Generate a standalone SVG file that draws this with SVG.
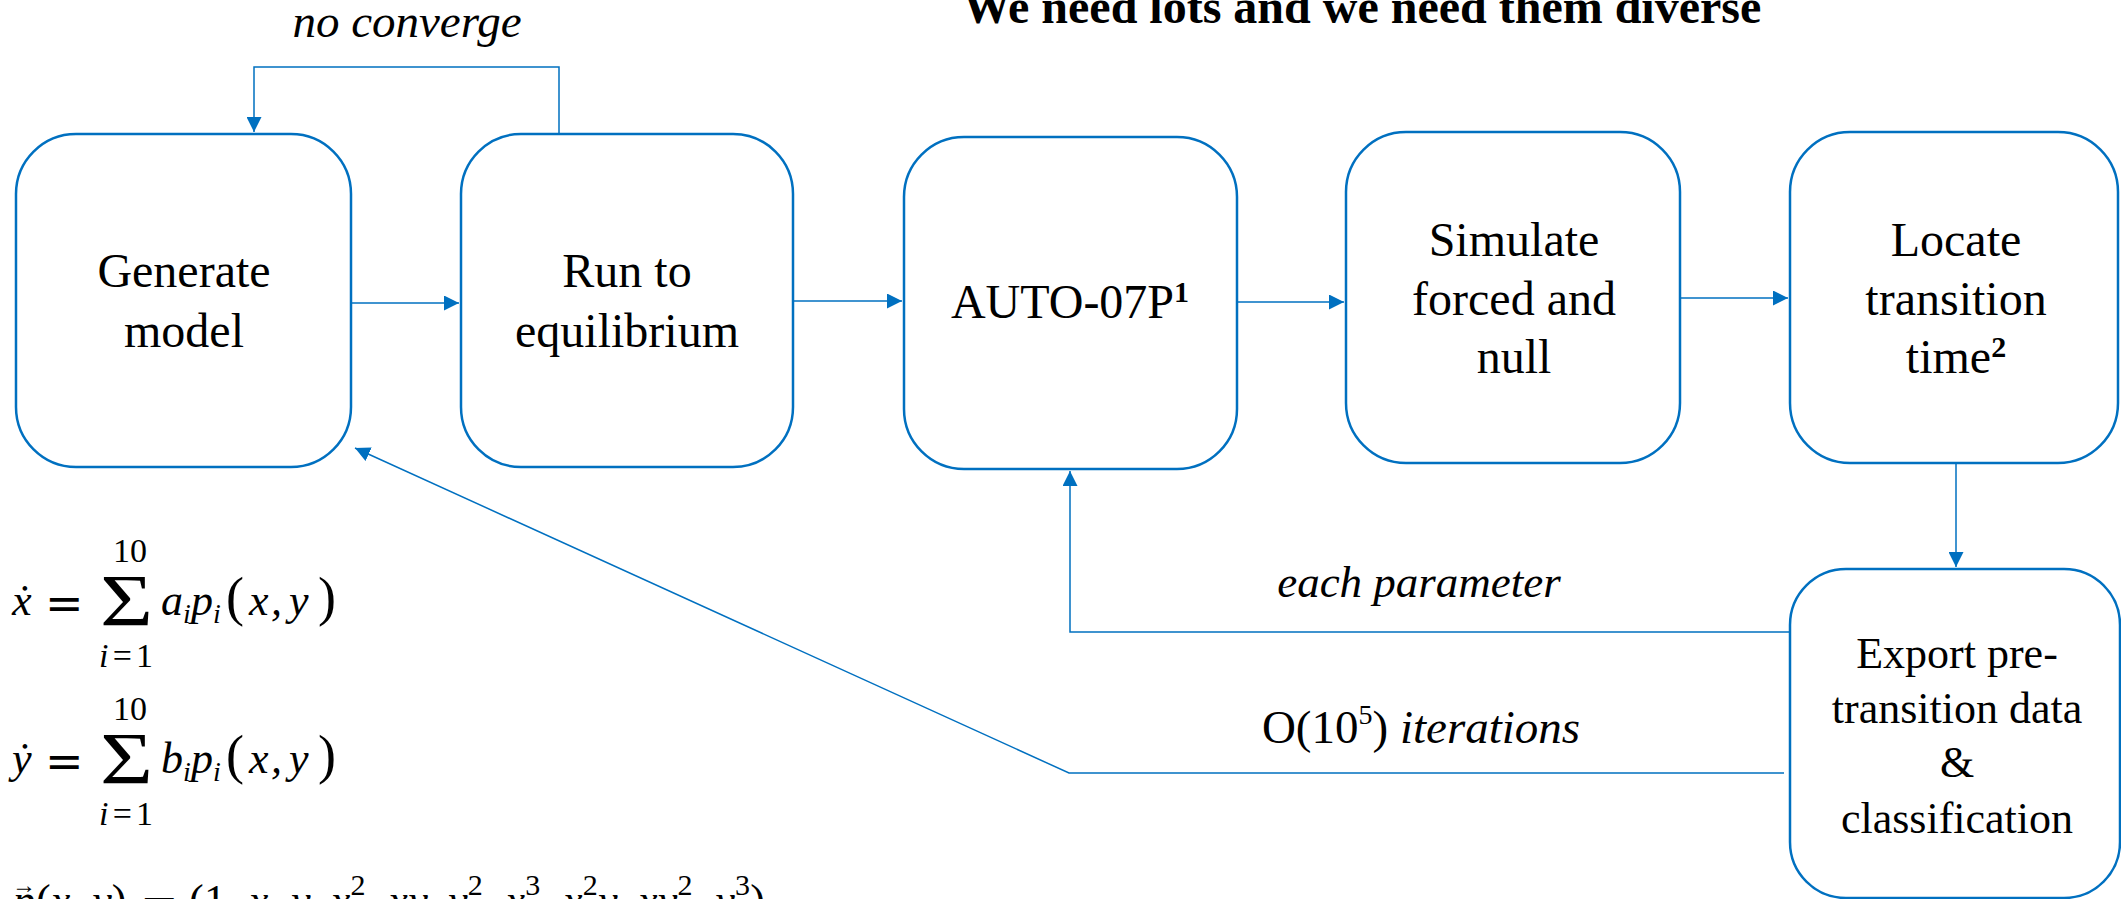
<svg xmlns="http://www.w3.org/2000/svg" width="2121" height="899" viewBox="0 0 2121 899">
<defs>
<style>
.box{fill:#fff;stroke:#0070C0;stroke-width:2.5}
.con{fill:none;stroke:#0070C0;stroke-width:1.5}
.t{font-family:"Liberation Serif","Times New Roman",serif;fill:#000}
.lbl{font-size:48px;text-anchor:middle}
.ex{font-size:44px;text-anchor:middle}
.it{font-style:italic}
.eq{font-family:"Liberation Serif","Times New Roman",serif;font-style:italic;fill:#000;font-size:44px}
.n{font-style:normal}
.sub{font-size:28px}
.par{font-style:normal;font-size:54px}
.lim{font-family:"Liberation Serif","Times New Roman",serif;fill:#000;font-size:34px}
.sig{font-family:"Liberation Serif","Times New Roman",serif;fill:#000;font-size:74px}
.eqs{font-family:"DejaVu Serif",serif;fill:#000;font-size:46px}
</style>
<marker id="ah" viewBox="0 0 10 10" refX="10" refY="5" markerWidth="15" markerHeight="15" markerUnits="userSpaceOnUse" orient="auto">
<path d="M0,0 L10,5 L0,10 z" fill="#0070C0"/>
</marker>
</defs>
<rect width="2121" height="899" fill="#fff"/>

<text class="t" x="1362" y="23" font-size="48" font-weight="bold" text-anchor="middle">We need lots and we need them diverse</text>

<g id="connectors">
<path class="con" d="M351,303 H459" marker-end="url(#ah)"/>
<path class="con" d="M793,301 H902" marker-end="url(#ah)"/>
<path class="con" d="M1237,302 H1344" marker-end="url(#ah)"/>
<path class="con" d="M1680,298 H1788" marker-end="url(#ah)"/>
<path class="con" d="M559,134 V67 H254 V132" marker-end="url(#ah)"/>
<path class="con" d="M1956,463 V567" marker-end="url(#ah)"/>
<path class="con" d="M1789,632 H1070 V471" marker-end="url(#ah)"/>
<path class="con" d="M1784,773 H1069 L355,448" marker-end="url(#ah)"/>
<text class="t it" x="407" y="37" font-size="47" text-anchor="middle">no converge</text>
<text class="t it" x="1419" y="597" font-size="45" text-anchor="middle">each parameter</text>
<text class="t" x="1421" y="743" font-size="47" text-anchor="middle">O(10<tspan font-size="28" dy="-19">5</tspan><tspan dy="19">) </tspan><tspan font-style="italic">iterations</tspan></text>
</g>

<g id="generate">
<rect class="box" x="16" y="134" width="335" height="333" rx="60" ry="60"/>
<text class="t lbl" x="184" y="287">Generate</text>
<text class="t lbl" x="184" y="347">model</text>
</g>

<g id="run">
<rect class="box" x="461" y="134" width="332" height="333" rx="60" ry="60"/>
<text class="t lbl" x="627" y="287">Run to</text>
<text class="t lbl" x="627" y="347">equilibrium</text>
</g>

<g id="auto">
<rect class="box" x="904" y="137" width="333" height="332" rx="60" ry="60"/>
<text class="t lbl" x="1070" y="318">AUTO-07P<tspan font-size="30" font-weight="bold" dy="-16">1</tspan></text>
</g>

<g id="simulate">
<rect class="box" x="1346" y="132" width="334" height="331" rx="60" ry="60"/>
<text class="t lbl" x="1514" y="256">Simulate</text>
<text class="t lbl" x="1514" y="315">forced and</text>
<text class="t lbl" x="1514" y="373">null</text>
</g>

<g id="locate">
<rect class="box" x="1790" y="132" width="328" height="331" rx="60" ry="60"/>
<text class="t lbl" x="1956" y="256">Locate</text>
<text class="t lbl" x="1956" y="315">transition</text>
<text class="t lbl" x="1956" y="373">time<tspan font-size="30" font-weight="bold" dy="-16">2</tspan></text>
</g>

<g id="export">
<rect class="box" x="1790" y="569" width="330" height="329" rx="56" ry="56"/>
<text class="t ex" x="1957" y="668">Export pre-</text>
<text class="t ex" x="1957" y="723">transition data</text>
<text class="t ex" x="1957" y="777">&amp;</text>
<text class="t ex" x="1957" y="833">classification</text>
</g>

<g id="equations">
<text class="eq" x="12" y="615">ẋ</text>
<text class="eqs" x="45" y="619">=</text>
<text class="sig" x="100" y="626" textLength="53" lengthAdjust="spacingAndGlyphs">Σ</text>
<text class="lim" x="113" y="562" textLength="34" lengthAdjust="spacingAndGlyphs">10</text>
<text class="lim" x="99" y="667" textLength="54" lengthAdjust="spacing"><tspan font-style="italic">i</tspan>=1</text>
<text class="eq" y="615"><tspan x="161">a</tspan><tspan class="sub" x="183" dy="8">i</tspan><tspan x="191" dy="-8">p</tspan><tspan class="sub" x="213" dy="8">i</tspan><tspan class="par" x="226" dy="-8">(</tspan><tspan x="249">x</tspan><tspan x="271">,</tspan><tspan x="289">y</tspan><tspan class="par" x="318">)</tspan></text>

<text class="eq" x="12" y="773">ẏ</text>
<text class="eqs" x="45" y="777">=</text>
<text class="sig" x="100" y="784" textLength="53" lengthAdjust="spacingAndGlyphs">Σ</text>
<text class="lim" x="113" y="720" textLength="34" lengthAdjust="spacingAndGlyphs">10</text>
<text class="lim" x="99" y="825" textLength="54" lengthAdjust="spacing"><tspan font-style="italic">i</tspan>=1</text>
<text class="eq" y="773"><tspan x="161">b</tspan><tspan class="sub" x="183" dy="8">i</tspan><tspan x="191" dy="-8">p</tspan><tspan class="sub" x="213" dy="8">i</tspan><tspan class="par" x="226" dy="-8">(</tspan><tspan x="249">x</tspan><tspan x="271">,</tspan><tspan x="289">y</tspan><tspan class="par" x="318">)</tspan></text>

<text class="eq" x="13" y="915">p</text>
<text class="t" x="12" y="893" font-size="24">→</text>
<text class="eq" x="36" y="915"><tspan class="n">(</tspan>x, y<tspan class="n">)</tspan></text>
<text class="eqs" x="140" y="919">=</text>
<text class="eq" x="189" y="915" textLength="576" lengthAdjust="spacing"><tspan class="n">(1, </tspan>x, y, x<tspan class="n" font-size="30" dy="-20">2</tspan><tspan dy="20">, xy, y</tspan><tspan class="n" font-size="30" dy="-20">2</tspan><tspan dy="20">, x</tspan><tspan class="n" font-size="30" dy="-20">3</tspan><tspan dy="20">, x</tspan><tspan class="n" font-size="30" dy="-20">2</tspan><tspan dy="20">y, xy</tspan><tspan class="n" font-size="30" dy="-20">2</tspan><tspan dy="20">, y</tspan><tspan class="n" font-size="30" dy="-20">3</tspan><tspan class="n" dy="20">)</tspan></text>
</g>
</svg>
